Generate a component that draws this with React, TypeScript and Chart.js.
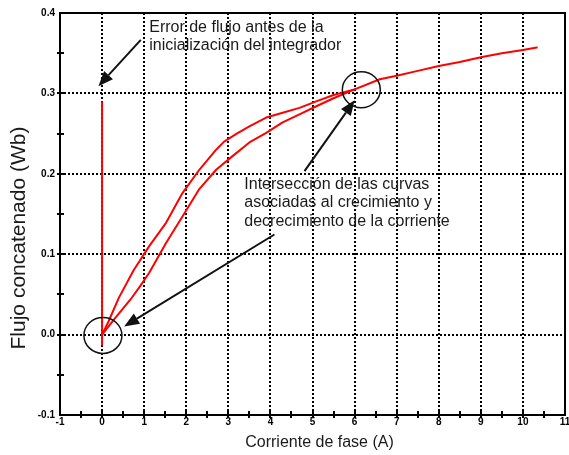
import React, { useEffect, useRef } from "react";
import { Chart, registerables } from "chart.js";

Chart.register(...registerables);

// ---- data ----
const spikeCurrent = [0, 0];
const spikeFlux = [-0.0125, 0.289];

const upperCurrent = [0, 0.15, 0.4, 0.75, 1.12, 1.52, 1.91, 2.31, 2.71, 2.9, 3.2, 3.5, 3.9, 4.29, 4.69, 5.09, 5.5];
const upperFlux = [0.0, 0.016, 0.046, 0.08, 0.11, 0.139, 0.176, 0.205, 0.23, 0.24, 0.25, 0.259, 0.27, 0.276, 0.282, 0.29, 0.298];

const lowerCurrent = [0, 0.3, 0.68, 0.9, 1.12, 1.52, 1.91, 2.31, 2.71, 3.1, 3.5, 3.9, 4.29, 4.69, 5.09, 5.5];
const lowerFlux = [0.0, 0.02, 0.044, 0.06, 0.077, 0.114, 0.147, 0.181, 0.205, 0.222, 0.239, 0.251, 0.264, 0.274, 0.284, 0.294];

const commonCurrent = [6.0, 6.6, 7.0, 7.5, 8.0, 8.5, 9.0, 9.5, 10.0, 10.33];
const commonFlux = [0.305, 0.3176, 0.322, 0.328, 0.334, 0.339, 0.345, 0.35, 0.354, 0.357];

const xTitle = "Corriente de fase (A)";
const yTitle = "Flujo concatenado (Wb)";
const xMin = -1, xMax = 11, xStep = 1;
const yMin = -0.1, yMax = 0.4, yStep = 0.1;

const note1Lines = ["Error de flujo antes de la", "inicialización del integrador"];
const note2Lines = ["Intersección de las curvas", "asociadas al crecimiento y", "decrecimiento de la corriente"];

// annotation anchors in data coordinates
const note1Anchor = { x: 1.12, y: 0.382 };
const note2Anchor = { x: 3.38, y: 0.1868 };
const circles = [
  { x: 0.02, y: -0.001 },
  { x: 6.16, y: 0.3045 },
];
const arrows = [
  { from: { x: 0.92, y: 0.3665 }, to: { x: -0.088, y: 0.309 } },
  { from: { x: 4.81, y: 0.2034 }, to: { x: 6.0, y: 0.2914 } },
  { from: { x: 4.095, y: 0.1245 }, to: { x: 0.524, y: 0.01 } },
];

const FONT = "'Liberation Sans', Arial, sans-serif";

const toPoints = (xs: number[], ys: number[]) => xs.map((x, i) => ({ x, y: ys[i] }));

const drawArrow = (ctx: CanvasRenderingContext2D, x0: number, y0: number, x1: number, y1: number) => {
  const ang = Math.atan2(y1 - y0, x1 - x0);
  const len = 15, half = 6;
  const bx = x1 - len * Math.cos(ang), by = y1 - len * Math.sin(ang);
  ctx.beginPath();
  ctx.moveTo(x0, y0);
  ctx.lineTo(bx, by);
  ctx.stroke();
  ctx.beginPath();
  ctx.moveTo(x1, y1);
  ctx.lineTo(bx + half * Math.sin(ang), by - half * Math.cos(ang));
  ctx.lineTo(bx - half * Math.sin(ang), by + half * Math.cos(ang));
  ctx.closePath();
  ctx.fill();
};

const framePlugin = {
  id: "frame",
  beforeDatasetsDraw(chart: any) {
    const { ctx, chartArea: a, scales } = chart;
    const x = scales.x, y = scales.y;
    ctx.save();
    ctx.strokeStyle = "#000";
    ctx.lineWidth = 2;
    ctx.setLineDash([2, 2]);
    for (let v = xMin + xStep; v < xMax - 1e-9; v += xStep) {
      const px = Math.round(x.getPixelForValue(v));
      ctx.beginPath();
      ctx.moveTo(px, a.top);
      ctx.lineTo(px, a.bottom);
      ctx.stroke();
    }
    for (let v = yMin + yStep; v < yMax - 1e-9; v += yStep) {
      const py = Math.round(y.getPixelForValue(v));
      ctx.beginPath();
      ctx.moveTo(a.left, py);
      ctx.lineTo(a.right, py);
      ctx.stroke();
    }
    ctx.restore();
  },
  afterDatasetsDraw(chart: any) {
    const { ctx, chartArea: a, scales } = chart;
    const x = scales.x, y = scales.y;
    ctx.save();
    ctx.strokeStyle = "#000";
    ctx.lineWidth = 2;
    ctx.setLineDash([]);
    ctx.strokeRect(a.left, a.top, a.right - a.left, a.bottom - a.top);
    // tick marks (bottom and left only)
    for (let v = xMin + xStep / 2; v < xMax - 1e-9; v += xStep / 2) {
      const px = Math.round(x.getPixelForValue(v));
      ctx.beginPath();
      ctx.moveTo(px, a.bottom - 4);
      ctx.lineTo(px, a.bottom + 3);
      ctx.stroke();
    }
    for (let v = yMin + yStep / 2; v < yMax - 1e-9; v += yStep / 2) {
      const py = Math.round(y.getPixelForValue(v));
      ctx.beginPath();
      ctx.moveTo(a.left - 3, py);
      ctx.lineTo(a.left + 4, py);
      ctx.stroke();
    }
    ctx.restore();
  },
  afterDraw(chart: any) {
    const { ctx, scales, chartArea: a } = chart;
    const x = scales.x, y = scales.y;
    ctx.save();
    // axis titles
    ctx.fillStyle = "#1a1a1a";
    ctx.textAlign = "center";
    ctx.textBaseline = "middle";
    ctx.font = `16px ${FONT}`;
    ctx.fillText(xTitle, (a.left + a.right) / 2 + 7, chart.height - 12);
    ctx.save();
    ctx.translate(19, (a.top + a.bottom) / 2 + 24);
    ctx.rotate(-Math.PI / 2);
    ctx.font = `21px ${FONT}`;
    ctx.fillText(yTitle, 0, 0);
    ctx.restore();

    ctx.strokeStyle = "#111";
    ctx.fillStyle = "#111";
    ctx.lineWidth = 1.5;
    for (const c of circles) {
      ctx.beginPath();
      ctx.ellipse(x.getPixelForValue(c.x), y.getPixelForValue(c.y), 19, 18, 0, 0, Math.PI * 2);
      ctx.stroke();
    }
    ctx.lineWidth = 2;
    for (const ar of arrows) {
      drawArrow(
        ctx,
        x.getPixelForValue(ar.from.x),
        y.getPixelForValue(ar.from.y),
        x.getPixelForValue(ar.to.x),
        y.getPixelForValue(ar.to.y)
      );
    }
    ctx.font = `16px ${FONT}`;
    ctx.textAlign = "left";
    ctx.textBaseline = "middle";
    ctx.fillStyle = "#1a1a1a";
    const lh = 18.4;
    const n1x = x.getPixelForValue(note1Anchor.x), n1y = y.getPixelForValue(note1Anchor.y);
    note1Lines.forEach((t, i) => ctx.fillText(t, n1x, n1y + i * lh));
    const n2x = x.getPixelForValue(note2Anchor.x), n2y = y.getPixelForValue(note2Anchor.y);
    note2Lines.forEach((t, i) => ctx.fillText(t, n2x, n2y + i * lh));
    ctx.restore();
  },
};

export default function App() {
  const ref = useRef<HTMLCanvasElement | null>(null);
  useEffect(() => {
    if (!ref.current) return;
    const red = "#ff0000";
    const lineDs = (data: any) => ({
      data,
      showLine: true,
      borderColor: red,
      backgroundColor: red,
      borderWidth: 2,
      pointRadius: 0,
      tension: 0,
      fill: false,
    });
    const chart = new Chart(ref.current, {
      type: "scatter",
      data: {
        datasets: [
          lineDs(toPoints(spikeCurrent, spikeFlux)),
          lineDs(toPoints(upperCurrent.concat(commonCurrent), upperFlux.concat(commonFlux))),
          lineDs(toPoints(lowerCurrent.concat(commonCurrent.slice(0, 1)), lowerFlux.concat(commonFlux.slice(0, 1)))),
        ],
      },
      options: {
        responsive: false,
        animation: false,
        layout: { padding: { top: 13, right: 4, left: 0, bottom: 0 } },
        plugins: { legend: { display: false }, tooltip: { enabled: false } },
        elements: { line: { borderJoinStyle: "round", borderCapStyle: "round" } },
        scales: {
          x: {
            type: "linear",
            min: xMin,
            max: xMax,
            grid: { display: false, drawTicks: false },
            border: { display: false },
            ticks: {
              stepSize: xStep,
              maxRotation: 0,
              autoSkip: false,
              padding: 1,
              color: "#000",
              font: { family: FONT, size: 10, weight: "bold" },
            },
            title: { display: false },
            afterFit(scale: any) {
              scale.height = 40;
              scale.paddingLeft = 0;
              scale.paddingRight = 0;
            },
          },
          y: {
            type: "linear",
            min: yMin,
            max: yMax,
            grid: { display: false, drawTicks: false },
            border: { display: false },
            ticks: {
              stepSize: yStep,
              padding: 5,
              color: "#000",
              font: { family: FONT, size: 10, weight: "bold" },
              callback: (v: any) => Number(v).toFixed(1),
            },
            title: { display: false },
            afterFit(scale: any) {
              scale.width = 60;
              scale.paddingTop = 0;
              scale.paddingBottom = 0;
            },
          },
        },
      } as any,
      plugins: [framePlugin],
    });
    return () => chart.destroy();
  }, []);
  return (
    <div style={{ position: "fixed", left: 0, top: 0, width: 569, height: 455, background: "#fff" }}>
      <canvas ref={ref} width={569} height={455} style={{ display: "block" }} />
    </div>
  );
}
